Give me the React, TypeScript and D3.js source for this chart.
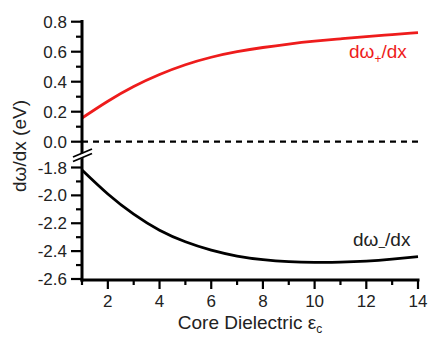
import { useEffect, useRef } from "react";
import * as d3 from "d3";

const xs = [1, 2, 3, 4, 5, 6, 7, 8, 9, 10, 11, 12, 13, 14];
const plusValues = [0.158, 0.27, 0.368, 0.448, 0.513, 0.563, 0.6, 0.628, 0.651, 0.67, 0.686, 0.701, 0.714, 0.727];
const minusValues = [-1.818, -1.99, -2.135, -2.25, -2.333, -2.393, -2.435, -2.461, -2.475, -2.48, -2.479, -2.472, -2.458, -2.44];
const topTicks = [0.0, 0.2, 0.4, 0.6, 0.8];
const bottomTicks = [-2.6, -2.4, -2.2, -2.0, -1.8];
const xTicks = [2, 4, 6, 8, 10, 12, 14];

const FONT = "'Liberation Sans', Arial, sans-serif";

export default function App() {
  const svgRef = useRef<SVGSVGElement | null>(null);
  const width = 432;
  const height = 337;

  useEffect(() => {
    if (!svgRef.current) return;
    const svg = d3.select(svgRef.current);
    svg.selectAll("*").remove();

    const x = d3.scaleLinear().domain([1, 14]).range([82, 418]);
    const yTop = d3.scaleLinear().domain([0, 0.8]).range([141.7, 21.7]);
    const yBot = d3.scaleLinear().domain([-2.6, -1.8]).range([279, 167.5]);
    const axisY = 280;
    const axisX = 82;

    // curves
    const lineTop = d3.line<number>().x((_, i) => x(xs[i])).y(d => yTop(d)).curve(d3.curveNatural);
    const lineBot = d3.line<number>().x((_, i) => x(xs[i])).y(d => yBot(d)).curve(d3.curveNatural);

    svg.append("path").attr("d", lineTop(plusValues))
      .attr("fill", "none").attr("stroke", "#ee1c1c").attr("stroke-width", 2.8);
    svg.append("path").attr("d", lineBot(minusValues))
      .attr("fill", "none").attr("stroke", "#000").attr("stroke-width", 2.8);

    // dashed zero line
    svg.append("line")
      .attr("x1", axisX).attr("x2", 418).attr("y1", yTop(0)).attr("y2", yTop(0))
      .attr("stroke", "#000").attr("stroke-width", 2.2).attr("stroke-dasharray", "6,5");

    // y axis line
    svg.append("line").attr("x1", axisX).attr("x2", axisX).attr("y1", 20).attr("y2", axisY + 1.5)
      .attr("stroke", "#000").attr("stroke-width", 3);
    // x axis line
    svg.append("line").attr("x1", axisX - 1.5).attr("x2", 419.5).attr("y1", axisY).attr("y2", axisY)
      .attr("stroke", "#000").attr("stroke-width", 3);

    // y ticks
    const yTickG = svg.append("g");
    const addYTick = (yv: number, len: number) =>
      yTickG.append("line").attr("x1", axisX - len).attr("x2", axisX).attr("y1", yv).attr("y2", yv)
        .attr("stroke", "#000").attr("stroke-width", 2.2);
    topTicks.forEach(t => addYTick(yTop(t), 11));
    d3.range(0.1, 0.8, 0.2).forEach(t => addYTick(yTop(t), 6));
    bottomTicks.forEach(t => addYTick(yBot(t), 11));
    d3.range(-2.5, -1.8, 0.2).forEach(t => addYTick(yBot(t), 6));

    const labelG = svg.append("g").style("font-family", FONT).style("font-size", "17px").attr("fill", "#222");
    topTicks.forEach(t => labelG.append("text").attr("x", 67).attr("y", yTop(t) + 6)
      .attr("text-anchor", "end").text(t.toFixed(1)));
    bottomTicks.forEach(t => labelG.append("text").attr("x", 67).attr("y", yBot(t) + 6)
      .attr("text-anchor", "end").text(t.toFixed(1)));

    // x ticks
    xTicks.forEach(t => {
      svg.append("line").attr("x1", x(t)).attr("x2", x(t)).attr("y1", axisY).attr("y2", axisY + 9)
        .attr("stroke", "#000").attr("stroke-width", 2.2);
      labelG.append("text").attr("x", x(t)).attr("y", 307).attr("text-anchor", "middle").text(t);
    });
    d3.range(1, 14, 2).forEach(t => {
      svg.append("line").attr("x1", x(t)).attr("x2", x(t)).attr("y1", axisY).attr("y2", axisY + 5)
        .attr("stroke", "#000").attr("stroke-width", 2.2);
    });

    // axis break
    svg.append("polygon").attr("points", `${axisX - 3},155 ${axisX + 3},152.5 ${axisX + 3},157 ${axisX - 3},159.5`)
      .attr("fill", "#fff");
    [0, 4.5].forEach(o => {
      svg.append("line").attr("x1", 73).attr("x2", 92).attr("y1", 157 + o).attr("y2", 149 + o)
        .attr("stroke", "#000").attr("stroke-width", 1.8);
    });

    // axis titles
    svg.append("text")
      .attr("transform", "translate(26,146) rotate(-90)")
      .attr("text-anchor", "middle")
      .style("font-family", FONT).style("font-size", "19px").attr("fill", "#222")
      .text("dω/dx (eV)");

    const xl = svg.append("text").attr("x", 250).attr("y", 329).attr("text-anchor", "middle")
      .style("font-family", FONT).style("font-size", "19px").attr("fill", "#222");
    xl.append("tspan").text("Core Dielectric ε");
    xl.append("tspan").attr("dy", 4).style("font-size", "12px").text("c");

    // series labels
    const plusLabel = svg.append("text").attr("x", 349).attr("y", 58)
      .style("font-family", FONT).style("font-size", "19px").attr("fill", "#ee1c1c");
    plusLabel.append("tspan").text("dω");
    plusLabel.append("tspan").attr("dy", 5).style("font-size", "12px").text("+");
    plusLabel.append("tspan").attr("dy", -5).text("/dx");

    const minusLabel = svg.append("text").attr("x", 353).attr("y", 246)
      .style("font-family", FONT).style("font-size", "19px").attr("fill", "#222");
    minusLabel.append("tspan").text("dω");
    minusLabel.append("tspan").attr("dy", 5).style("font-size", "12px").text("–");
    minusLabel.append("tspan").attr("dy", -5).text("/dx");
  }, []);

  return (
    <svg ref={svgRef} width={width} height={height}
      style={{ position: "absolute", left: 0, top: 0, background: "#fff" }} />
  );
}
